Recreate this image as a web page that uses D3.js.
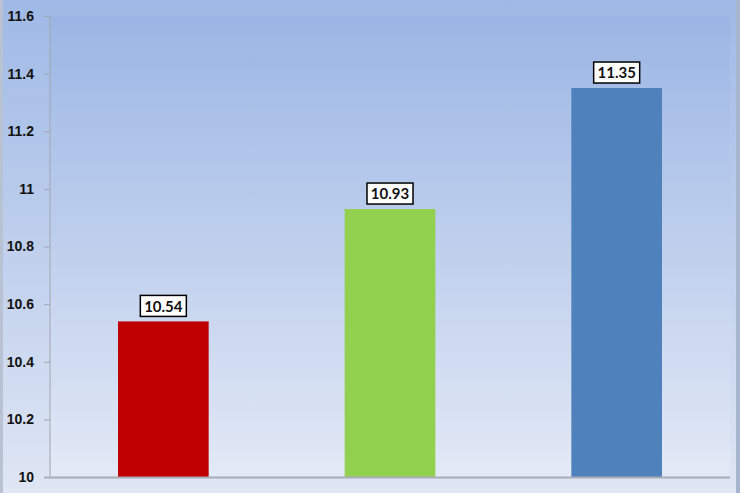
<!DOCTYPE html>
<html lang="en">
<head>
<meta charset="utf-8">
<title>Bar chart</title>
<script src="https://cdnjs.cloudflare.com/ajax/libs/d3/7.8.5/d3.min.js"></script>
<style>
  body { margin: 0; }
  svg { display: block; font-family: Lato, "Open Sans", sans-serif; }
  .tick text { font-size: 14px; font-weight: bold; fill: #111; }
</style>
</head>
<body>
<svg id="chart"></svg>
<script>
var categories = ["A", "B", "C"];
var values = [10.54, 10.93, 11.35];
var colors = ["#C00000", "#92D050", "#4F81BD"];
var yTicks = [10, 10.2, 10.4, 10.6, 10.8, 11, 11.2, 11.4, 11.6];

var w = 740, h = 493;
var plotL = 50, plotR = 730, plotT = 16, plotB = 477;

var svg = d3.select("#chart").attr("width", w).attr("height", h);
var defs = svg.append("defs");

var g1 = defs.append("linearGradient").attr("id", "bgOuter")
  .attr("x1", 0).attr("y1", 0).attr("x2", 0).attr("y2", 1);
g1.append("stop").attr("offset", "0%").attr("stop-color", "#9fb9e6");
g1.append("stop").attr("offset", "100%").attr("stop-color", "#dfe6f4");

var g2 = defs.append("linearGradient").attr("id", "bgPlot")
  .attr("x1", 0).attr("y1", 0).attr("x2", 0).attr("y2", 1);
g2.append("stop").attr("offset", "0%").attr("stop-color", "#9bb6e4");
g2.append("stop").attr("offset", "100%").attr("stop-color", "#e3e9f6");

// background
svg.append("rect").attr("x", 0).attr("y", 0).attr("width", w).attr("height", h)
  .attr("fill", "url(#bgOuter)");
svg.append("rect").attr("x", 0).attr("y", 0).attr("width", 3).attr("height", h)
  .attr("fill", "#b9c2d3");
svg.append("rect").attr("x", 736).attr("y", 0).attr("width", 4).attr("height", h)
  .attr("fill", "#a6b4cf");
svg.append("rect").attr("x", plotL).attr("y", plotT)
  .attr("width", plotR - plotL).attr("height", plotB - plotT)
  .attr("fill", "url(#bgPlot)");

var x = d3.scaleBand().domain(categories).range([plotL, plotR]).paddingInner(0.6).paddingOuter(0.3);
var y = d3.scaleLinear().domain([10, 11.6]).range([plotB, plotT]);

// bars
svg.selectAll(".bar").data(values).enter().append("rect")
  .attr("class", "bar")
  .attr("x", function(d, i) { return x(categories[i]); })
  .attr("y", function(d) { return y(d); })
  .attr("width", x.bandwidth())
  .attr("height", function(d) { return plotB - y(d); })
  .attr("fill", function(d, i) { return colors[i]; });

// axes
var yAxis = svg.append("g")
  .attr("transform", "translate(" + plotL + ",0)")
  .call(d3.axisLeft(y).tickValues(yTicks).tickSize(6).tickPadding(10)
    .tickFormat(function(d) { return d3.format("")(+d.toFixed(1)); }));
yAxis.selectAll("line").attr("stroke", "#a0a6b0");
yAxis.select(".domain").attr("stroke", "#a0a6b0").attr("d", "M0," + plotT + "V" + plotB);

svg.append("line")
  .attr("x1", plotL - 6).attr("x2", plotR)
  .attr("y1", plotB + 0.5).attr("y2", plotB + 0.5)
  .attr("stroke", "#a8adb6").attr("stroke-width", 2);

// value labels
var labels = svg.selectAll(".lbl").data(values).enter().append("g")
  .attr("class", "lbl")
  .attr("transform", function(d, i) {
    return "translate(" + (x(categories[i]) + x.bandwidth() / 2) + "," + (y(d) - 15) + ")";
  });
labels.append("rect")
  .attr("x", -23).attr("y", -11).attr("width", 46).attr("height", 21)
  .attr("fill", "#fff").attr("stroke", "#000").attr("stroke-width", 1.5);
labels.append("text")
  .attr("text-anchor", "middle").attr("dy", "0.35em")
  .attr("font-size", "15px").attr("font-weight", "bold").attr("fill", "#111")
  .text(function(d) { return d.toFixed(2); });
</script>
</body>
</html>
